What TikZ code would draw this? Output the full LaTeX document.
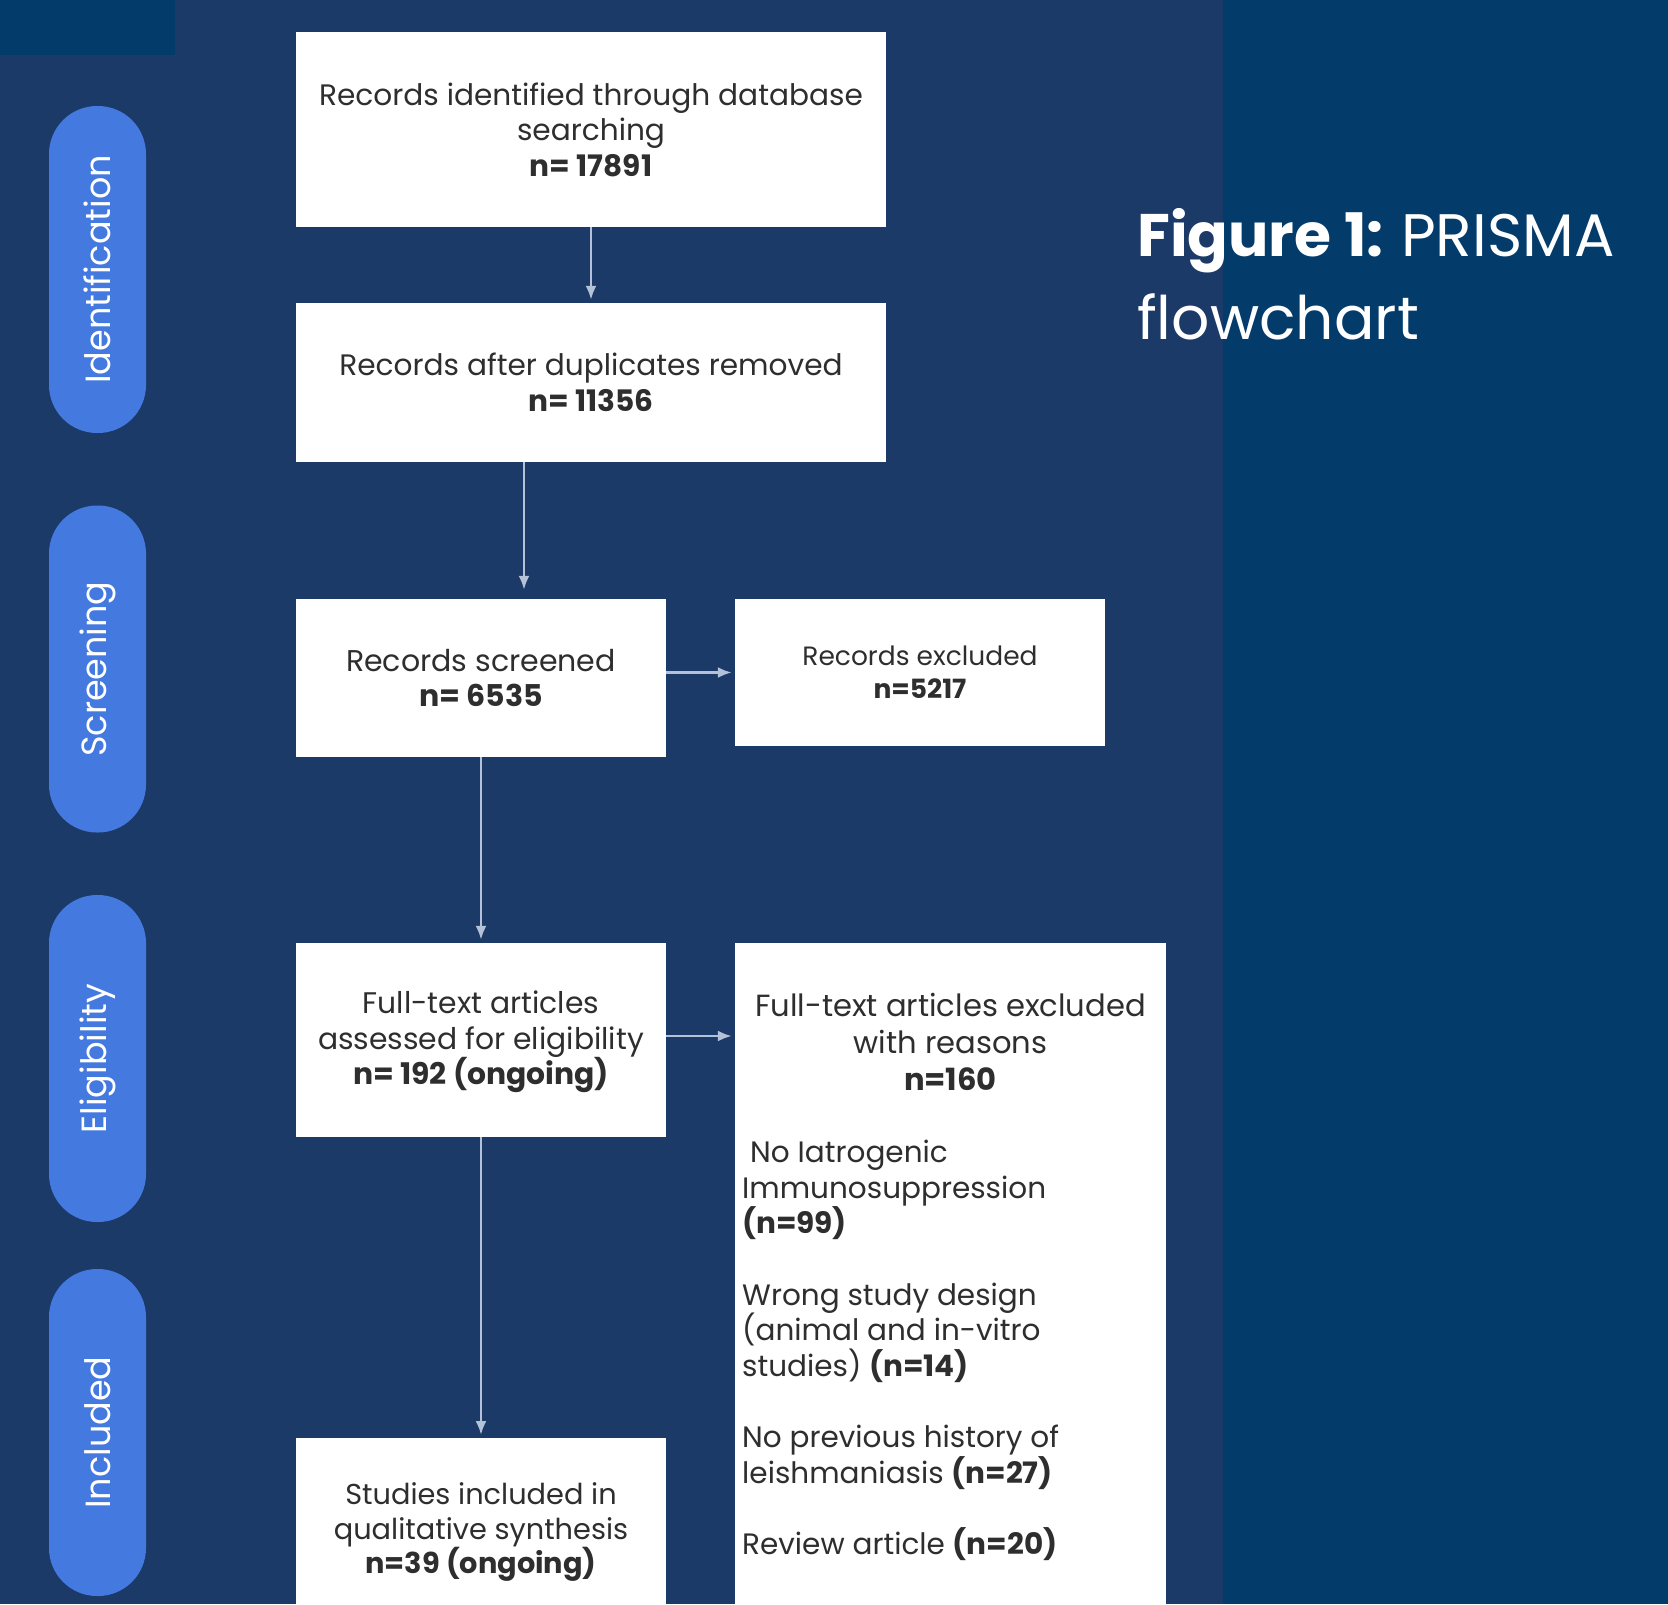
\documentclass[tikz,border=0pt]{standalone}
\usepackage{fontspec}
\setmainfont{Poppins}
\usetikzlibrary{arrows.meta}
\definecolor{bgleft}{HTML}{1B3A67}
\definecolor{bgright}{HTML}{033B6A}
\definecolor{pillc}{HTML}{4479DF}
\definecolor{arrowc}{HTML}{B4C2D9}
\definecolor{txt}{HTML}{2E2E2E}
\tikzset{
  box/.style={fill=white, draw=none, inner sep=0pt, align=center, text=txt,
    font=\fontsize{29.6}{35.5}\selectfont},
  pillbox/.style={fill=pillc, draw=none, rotate=90, minimum width=327pt, minimum height=97pt,
    rounded corners=48pt, text=white, inner sep=0pt, font=\fontsize{35}{40}\selectfont},
  flow/.style={draw=arrowc, line width=2.6pt, -{Latex[length=14pt,width=11pt]}, shorten >=3pt},
  titletext/.style={text=white, inner sep=0pt, anchor=base west, font=\fontsize{60}{80}\selectfont}
}
\begin{document}
\begin{tikzpicture}[x=1pt,y=-1pt]
\useasboundingbox (0,0) rectangle (1668,1604);
\fill[bgright] (0,0) rectangle (1668,1604);
\fill[bgleft] (0,0) rectangle (1223,1604);
\fill[bgright] (0,0) rectangle (175,55);

% phase pills
\node[pillbox] (p1) at (97.5,269.5) {Identification};
\node[pillbox] (p2) at (97.5,669) {Screening};
\node[pillbox] (p3) at (97.5,1058.5) {Eligibility};
\node[pillbox] (p4) at (97.5,1432.5) {Included};

% boxes
\node[box, minimum width=590pt, minimum height=195pt] (b1) at (591,129.5)
  {Records identified through database\\searching\\\textbf{n= 17891}};
\node[box, minimum width=590pt, minimum height=159pt] (b2) at (591,382.5)
  {Records after duplicates removed\\\textbf{n= 11356}};
\node[box, minimum width=370pt, minimum height=158pt, font=\fontsize{30}{35.5}\selectfont] (b3) at (481,678)
  {Records screened\\\textbf{n= 6535}};
\node[box, minimum width=370pt, minimum height=147pt, font=\fontsize{26.5}{33}\selectfont] (b4) at (920,672.5)
  {Records excluded\\\textbf{n=5217}};
\node[box, minimum width=370pt, minimum height=194pt] (b5) at (481,1040) {};
\node[box, fill=none, font=\fontsize{29.8}{35.6}\selectfont] (b5t) at (481,1042)
  {Full-text articles\\assessed for eligibility\\\textbf{n= 192 (ongoing)}};
\node[box, minimum width=431pt, minimum height=661pt, anchor=north] (b6) at (950.5,943) {};
\node[box, fill=none, font=\fontsize{30.6}{37}\selectfont] (b6h) at (950.5,1042)
  {Full-text articles excluded\\with reasons\\\textbf{n=160}};
\node[box, fill=none, align=left, anchor=north west, font=\fontsize{29.5}{35.6}\selectfont] (b6r) at (742,1140)
  {\hspace{8pt}No Iatrogenic\\Immunosuppression\\\textbf{(n=99)}\\[35.6pt]
   Wrong study design\\(animal and in-vitro\\studies) \textbf{(n=14)}\\[35.6pt]
   No previous history of\\leishmaniasis \textbf{(n=27)}\\[35.6pt]
   Review article \textbf{(n=20)}};
\node[box, minimum width=370pt, minimum height=166pt, anchor=north] (b7) at (481,1438)
  {};
\node[box, fill=none, font=\fontsize{28.8}{34.5}\selectfont] (b7t) at (481,1532)
  {Studies included in\\qualitative synthesis\\\textbf{n=39 (ongoing)}};

% connectors
\coordinate (xa) at (524,0);
\draw[flow] (b1.south) -- (b2.north);
\draw[flow, shorten >=9pt] (b2.south -| xa) -- (b3.north -| xa);
\draw[flow] (b3.east |- b4.west) -- (b4.west);
\draw[flow] (b3.south) -- (b5.north);
\draw[flow] ([yshift=4pt]b5.east) -- ([yshift=4pt]b5.east -| b6.west);
\draw[flow] (b5.south) -- (b7.north);

% title
\node[titletext] (t1) at (1137,256) {\textbf{Figure 1:}\hspace{-4pt} PRISMA};
\node[titletext] (t2) at (1137,339) {flowchart};
\end{tikzpicture}
\end{document}
